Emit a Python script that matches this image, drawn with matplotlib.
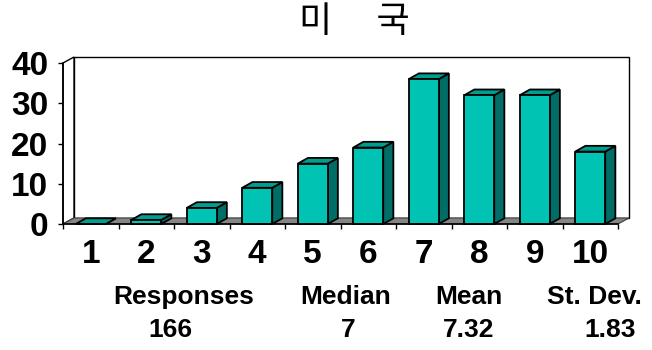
import matplotlib.pyplot as plt
from matplotlib.patches import Polygon
import numpy as np

title = '미　 국'
categories = [1, 2, 3, 4, 5, 6, 7, 8, 9, 10]
counts = [0, 1, 4, 9, 15, 19, 36, 32, 32, 18]
yticks = [0, 10, 20, 30, 40]
stat_names = ['Responses', 'Median', 'Mean', 'St. Dev.']
stat_values = ['166', '7', '7.32', '1.83']

W, H = 652, 350
fig = plt.figure(figsize=(W / 100, H / 100), dpi=100)
ax = fig.add_axes([63 / W, 126 / H, 555 / W, 161 / H])
ax.set_xlim(0.5, 10.5)
ax.set_ylim(0, 40)

# depth of the fake 3d box, given in pixels, turned into data units
dx, dy = ax.transData.inverted().transform(ax.transData.transform((0, 0)) + np.array([11, 6]))

front = '#00c3b3'
top = '#009e90'
side = '#006e66'
x0, x1 = ax.get_xlim()
y0, y1 = ax.get_ylim()


def poly(pts, fc, z, lw=1.0, ec='black'):
    ax.add_patch(Polygon(pts, closed=True, fc=fc, ec=ec, lw=lw, zorder=z,
                         clip_on=False, joinstyle='miter'))


# back wall, left wall and floor
poly([(x0 + dx, y0 + dy), (x1 + dx, y0 + dy), (x1 + dx, y1 + dy), (x0 + dx, y1 + dy)], 'white', 1)
poly([(x0, y0), (x0 + dx, y0 + dy), (x0 + dx, y1 + dy), (x0, y1)], 'white', 1)
poly([(x0, y0), (x1, y0), (x1 + dx, y0 + dy), (x0 + dx, y0 + dy)], '#858585', 2, lw=0.8, ec='#404040')

# bars
w = 0.54
bdx, bdy = dx * 0.92, dy * 0.95
for x, h in zip(categories, counts):
    l, r = x - w / 2, x + w / 2
    poly([(r, 0), (r + bdx, bdy), (r + bdx, h + bdy), (r, h)], side, 3, lw=1.3)
    poly([(l, h), (r, h), (r + bdx, h + bdy), (l + bdx, h + bdy)], top, 3, lw=1.3)
    poly([(l, 0), (r, 0), (r, h), (l, h)], front, 4, lw=1.3)

for s in ['top', 'right']:
    ax.spines[s].set_visible(False)
for s in ['left', 'bottom']:
    ax.spines[s].set_linewidth(1.2)
    ax.spines[s].set_zorder(5)
ax.patch.set_visible(False)

ax.set_yticks(yticks)
ax.set_yticklabels([str(t) for t in yticks], fontsize=24, fontweight='bold',
                   family='Liberation Sans')
ax.tick_params(axis='y', length=3.6, width=1, pad=7)

ax.set_xticks(np.arange(x0, x1 + 0.5, 1.0))
ax.set_xticklabels([])
ax.set_xticks(categories, minor=True)
ax.set_xticklabels([str(c) for c in categories], minor=True, fontsize=24,
                   fontweight='bold', family='Liberation Sans')
ax.tick_params(axis='x', which='major', length=3.6, width=1)
ax.tick_params(axis='x', which='minor', length=0, pad=11)

fig.text(354 / W, 1 - 22 / H, title, ha='center', va='center', fontsize=26,
         family=['Noto Sans CJK KR', 'DejaVu Sans'])

name_x = [184, 346, 469, 594]
value_x = [170, 348, 469, 610]
for nm, val, nx, vx in zip(stat_names, stat_values, name_x, value_x):
    fig.text(nx / W, 1 - 304 / H, nm, ha='center', va='baseline', fontsize=19,
             fontweight='bold', family='Liberation Sans')
    fig.text(vx / W, 1 - 337 / H, val, ha='center', va='baseline', fontsize=19,
             fontweight='bold', family='Liberation Sans')

fig.savefig('out.png', dpi=100)
